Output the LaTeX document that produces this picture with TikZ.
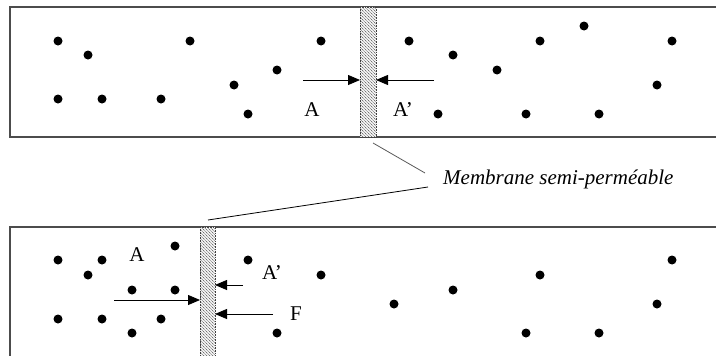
\documentclass[tikz,border=0pt]{standalone}
\usepackage{fontspec}
\setmainfont{Liberation Serif}
\usetikzlibrary{
  arrows.meta, % For arrow tips
  patterns % For the hatching of the membrane
}

\begin{document}
\begin{tikzpicture}[
      x=1pt, y=-1pt, % pixel coordinates, y downwards
      >={Triangle[length=12pt, width=10pt]}, % Default arrow tip
      wall/.style={draw=gray!60!black, line width=1.1pt}, % Style for the vessels
      membrane/.style={draw=gray!50!black, densely dotted, line width=0.6pt,
        preaction={fill=gray!10},
        pattern=north west lines, pattern color=black!80},
      force/.style={black, line width=0.8pt, ->}, % Style for force arrows
      lbl/.style={inner sep=0pt, font=\fontsize{21}{24}\selectfont},
    ]

    \useasboundingbox (0,0) rectangle (716,356);
    \clip (0,0) rectangle (716,356);

    % Gefaesse
    \draw[wall] (10,7) rectangle (740,137);
    \draw[wall] (10,227) rectangle (740,400);

    % Membranen
    \draw[membrane] (360,7) rectangle (376,137);
    \draw[membrane] (200,227) rectangle (215,370);

    % Molekuele oben
    \foreach \x/\y in {58/41, 88/55, 190/41, 321/41, 58/99, 102/99, 161/99,
                       234/85, 277/70, 248/114, 409/41, 453/55, 497/70,
                       540/41, 584/26, 672/41, 657/85, 438/114, 526/114, 599/114}
    \fill (\x,\y) circle[radius=4.5pt];

    % Molekuele unten
    \foreach \x/\y in {58/260, 102/260, 88/275, 175/246, 132/290, 175/290,
                       58/319, 102/319, 161/319, 132/333, 248/260, 321/275,
                       277/333, 394/304, 453/290, 540/275, 672/260, 657/304,
                       526/333, 599/333}
    \fill (\x,\y) circle[radius=4.5pt];

    % Koordinaten von Punkte
    \coordinate (tA) at (303,80);
    \coordinate (mL) at (360,80);
    \coordinate (tB) at (434,80);
    \coordinate (mR) at (376,80);
    \coordinate (bA) at (114,300);
    \coordinate (nL) at (200,300);
    \coordinate (bB) at (243,285);
    \coordinate (nB) at (215,285);
    \coordinate (bF) at (273,314);
    \coordinate (nF) at (215,314);

    % Kraefte
    \draw[force] (tA) -- (mL);
    \draw[force] (tB) -- (mR);
    \draw[force] (bA) -- (nL);
    \draw[force] (bB) -- (nB);
    \draw[force] (bF) -- (nF);

    % Beschriftung
    \node[lbl] (labA) at (312,110) {A};
    \node[lbl] (labB) at (403,110) {A’};
    \node[lbl] (labC) at (137,255) {A};
    \node[lbl] (labD) at (272,273) {A’};
    \node[lbl] (labF) at (296,314) {F};

    \node[lbl, anchor=base west, font=\fontsize{21}{24}\selectfont\itshape]
      (memb) at (443,184) {Membrane semi-perméable};
    \coordinate (p1) at (373,143);
    \coordinate (p2) at (425,173);
    \coordinate (p3) at (428,187);
    \coordinate (p4) at (208,220);
    \draw[gray!70!black, line width=0.8pt] (p1) -- (p2);
    \draw[black, line width=0.8pt] (p3) -- (p4);

  \end{tikzpicture}
\end{document}
